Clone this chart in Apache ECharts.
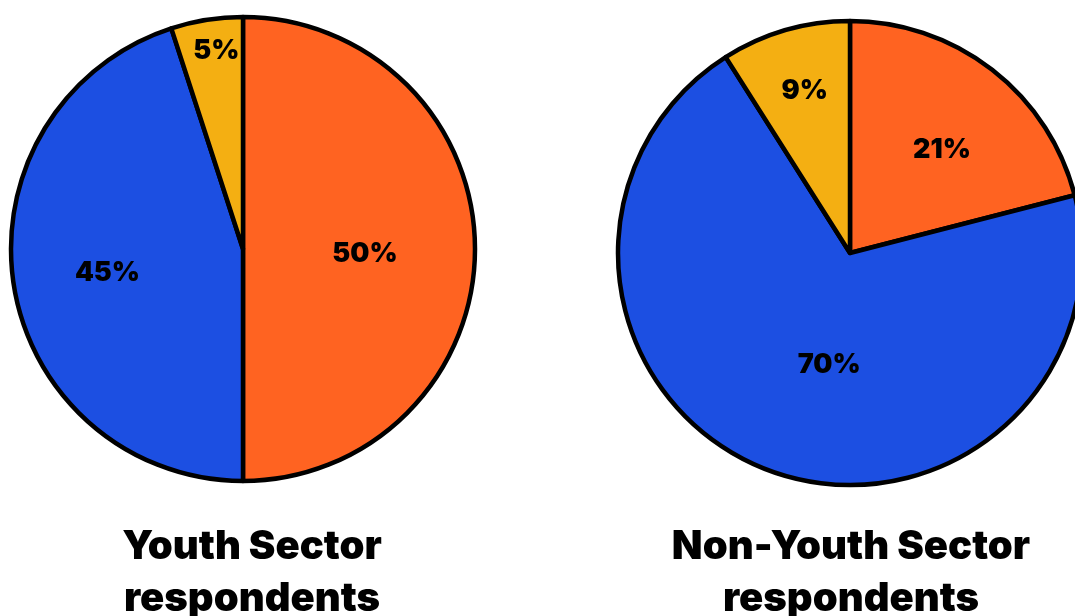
<!DOCTYPE html>
<html>
<head>
<meta charset="utf-8">
<script src="https://cdn.jsdelivr.net/npm/echarts@6/dist/echarts.min.js"></script>
<style>
  html, body { margin: 0; padding: 0; background: #fff; }
  #chart { width: 1075px; height: 616px; }
</style>
</head>
<body>
<div id="chart"></div>
<script>
// slice order: clockwise from 12 o'clock
const categories = ['Orange', 'Blue', 'Yellow'];
const youthValues = [50, 45, 5];
const nonYouthValues = [21, 70, 9];
const titles = ['Youth Sector\nrespondents', 'Non-Youth Sector\nrespondents'];

const colors = ['#FF6321', '#1C4FE2', '#F4AF12'];
const font = 'Inter';

// nudges so labels sit where the original has them
const youthOffsets = [[3, 5], [-18, 5], [-8, -81]];
const nonYouthOffsets = [[19, -9], [23, 1], [-12, -48]];

const chart = echarts.init(document.getElementById('chart'));

function makePie(values, offsets, center) {
  return {
    type: 'pie',
    center: center,
    radius: 232,
    startAngle: 90,
    clockwise: true,
    avoidLabelOverlap: false,
    silent: true,
    itemStyle: { borderColor: '#000', borderWidth: 4.5 },
    label: {
      show: true,
      position: 'inside',
      formatter: '{c}%',
      color: '#000',
      fontFamily: font,
      fontWeight: 900,
      fontSize: 27
    },
    labelLine: { show: false },
    data: values.map((v, i) => ({
      name: categories[i],
      value: v,
      itemStyle: { color: colors[i] },
      label: { offset: offsets[i] }
    }))
  };
}

chart.setOption({
  animation: false,
  title: titles.map((t, i) => ({
    text: t,
    left: i === 0 ? 247 : 846,
    top: 516,
    textAlign: 'center',
    textStyle: {
      fontFamily: font,
      fontWeight: 900,
      fontSize: 40,
      lineHeight: 52,
      color: '#000'
    }
  })),
  series: [
    makePie(youthValues, youthOffsets, [243, 249]),
    makePie(nonYouthValues, nonYouthOffsets, [850, 253])
  ]
});
</script>
</body>
</html>
